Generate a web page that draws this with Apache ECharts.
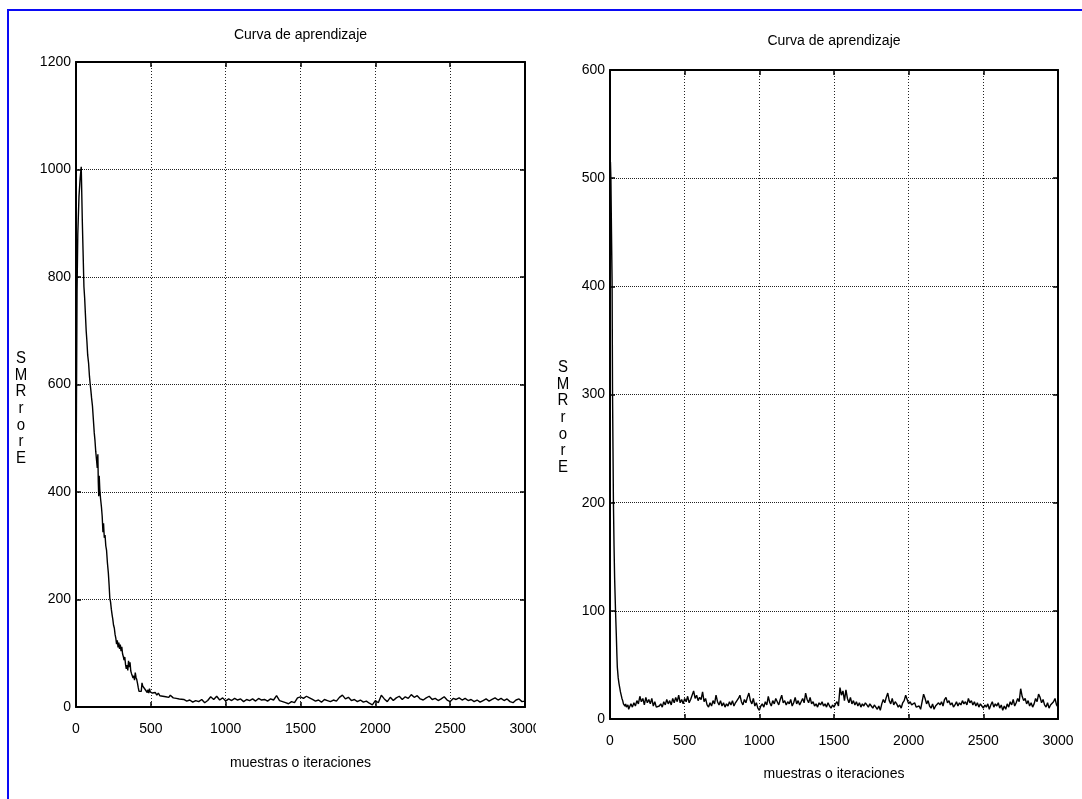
<!DOCTYPE html>
<html>
<head>
<meta charset="utf-8">
<title>Curva de aprendizaje</title>
<script src="https://cdn.jsdelivr.net/npm/echarts@6/dist/echarts.min.js"></script>
<style>
  html, body { margin: 0; padding: 0; background: #fff; }
  #chart { width: 1082px; height: 799px; }
</style>
</head>
<body>
<div id="chart"></div>
<script>
/* Curvas de aprendizaje: error frente a iteraciones (dos experimentos) */

var FONT = "'Liberation Sans Narrow', 'Arial Narrow', 'Liberation Sans', Arial, sans-serif";
var TITULO = "Curva de aprendizaje";
var EJE_X = "muestras o iteraciones";
var EJE_Y = "S\nM\nR\nr\no\nr\nE";

var xTicks = { min: 0, max: 3000, interval: 500 };
var yTicksIzq = { min: 0, max: 1200, interval: 200 };
var yTicksDer = { min: 0, max: 600, interval: 100 };

// grafico izquierdo: [iteracion, error]
var izqSubida = [[0, 366], [3, 560], [7, 775], [12, 880], [20, 950], [28, 985], [35, 1005]];
var izqCaida = [
  [42, 906], [47, 850], [53, 782], [58, 760], [63, 730], [68, 700], [73, 680], [78, 655],
  [84, 640], [90, 615], [95, 600], [99, 590], [104, 575], [110, 560], [116, 535], [122, 510],
  [127, 495], [132, 475], [137, 460], [142, 445], [146, 470], [149, 418], [152, 392], [155, 430],
  [159, 405], [164, 388], [170, 372], [175, 355], [180, 325], [184, 342], [189, 315], [194, 320],
  [199, 300], [204, 292], [210, 268], [216, 250], [221, 228], [226, 202], [231, 195], [236, 182],
  [241, 172], [246, 163], [251, 152], [256, 147], [261, 135], [266, 128], [271, 117], [276, 124],
  [281, 111], [286, 120], [291, 108], [296, 116], [301, 104], [306, 112], [311, 99], [316, 94],
  [321, 87], [326, 93], [331, 79], [336, 71], [341, 78], [346, 68], [351, 86], [356, 74],
  [361, 83], [366, 67], [371, 62], [376, 58], [381, 54], [386, 58], [391, 50], [396, 64],
  [401, 55], [406, 51], [411, 44], [416, 36], [421, 29], [426, 27], [431, 32], [436, 29],
  [441, 45], [446, 39], [451, 37], [456, 42], [461, 33], [466, 30], [471, 36], [476, 27],
  [481, 32], [486, 26], [491, 34], [496, 28], [501, 30], [510, 26], [520, 24], [530, 27],
  [540, 22], [550, 26], [560, 21], [570, 24], [580, 20], [590, 23], [600, 19], [610, 21],
  [620, 18], [630, 22], [640, 19], [650, 17], [660, 20], [670, 16], [680, 18], [690, 15], [700, 17]
];
var izqCola = [
  [720, 14], [740, 11], [760, 13], [780, 9], [800, 12], [820, 10], [840, 14], [860, 8],
  [880, 12], [900, 19], [920, 14], [940, 20], [960, 13], [980, 17], [1000, 11], [1020, 15],
  [1040, 12], [1060, 16], [1080, 13], [1100, 15], [1120, 10], [1140, 14], [1160, 12], [1180, 15],
  [1200, 11], [1220, 16], [1240, 13], [1260, 14], [1280, 11], [1300, 15], [1320, 13], [1340, 21],
  [1360, 12], [1380, 10], [1400, 8], [1420, 6], [1440, 10], [1460, 8], [1480, 17], [1500, 19],
  [1520, 16], [1540, 20], [1560, 17], [1580, 14], [1600, 11], [1620, 13], [1640, 9], [1660, 14],
  [1680, 12], [1700, 10], [1720, 13], [1740, 11], [1760, 18], [1780, 22], [1800, 15], [1820, 18],
  [1840, 12], [1860, 14], [1880, 10], [1900, 13], [1920, 9], [1940, 11], [1960, 7], [1980, 4],
  [2000, 12], [2020, 8], [2040, 22], [2060, 15], [2080, 10], [2100, 18], [2120, 12], [2140, 17],
  [2160, 20], [2180, 14], [2200, 19], [2220, 16], [2240, 23], [2260, 18], [2280, 21], [2300, 15],
  [2320, 13], [2340, 17], [2360, 20], [2380, 14], [2400, 16], [2420, 12], [2440, 15], [2460, 19],
  [2480, 13], [2500, 10], [2520, 16], [2540, 14], [2560, 17], [2580, 13], [2600, 16], [2620, 12],
  [2640, 14], [2660, 10], [2680, 13], [2700, 9], [2720, 12], [2740, 15], [2760, 11], [2780, 14],
  [2800, 17], [2820, 13], [2840, 16], [2860, 12], [2880, 15], [2900, 10], [2920, 8], [2940, 13],
  [2960, 15], [2980, 10], [3000, 11]
];

// grafico derecho: [iteracion, error]
var derCaida = [
  [0, 100], [3, 515], [6, 500], [10, 450], [14, 405], [17, 300], [20, 250], [23, 200],
  [27, 160], [31, 130], [37, 100], [42, 79], [46, 60], [49, 48], [55, 38], [60, 33],
  [65, 29], [70, 25], [75, 22], [80, 19], [85, 17], [90, 14], [95, 15], [100, 12],
  [105, 14], [110, 11], [115, 10], [120, 13], [125, 9], [130, 10]
];
var derCola = [
  [140, 14], [150, 11], [160, 15], [170, 12], [180, 17], [190, 14], [200, 21], [210, 16],
  [220, 19], [230, 13], [240, 20], [250, 15], [260, 18], [270, 14], [280, 19], [290, 12],
  [300, 16], [310, 11], [320, 10], [330, 12], [340, 14], [350, 11], [360, 16], [370, 13],
  [380, 18], [390, 14], [400, 17], [410, 13], [420, 19], [430, 15], [440, 20], [450, 16],
  [460, 22], [470, 15], [480, 18], [490, 14], [500, 19], [510, 16], [520, 21], [530, 15],
  [540, 18], [550, 17], [560, 26], [570, 19], [580, 22], [590, 17], [600, 20], [610, 18],
  [620, 25], [630, 16], [640, 19], [650, 13], [660, 11], [670, 15], [680, 12], [690, 17],
  [700, 14], [710, 22], [720, 16], [730, 13], [740, 17], [750, 12], [760, 15], [770, 11],
  [780, 14], [790, 12], [800, 16], [810, 13], [820, 17], [830, 12], [840, 15], [850, 14],
  [860, 19], [870, 22], [880, 16], [890, 13], [900, 18], [910, 15], [920, 20], [930, 24],
  [940, 17], [950, 14], [960, 19], [970, 12], [980, 15], [990, 10], [1000, 8], [1010, 12],
  [1020, 14], [1030, 11], [1040, 16], [1050, 13], [1060, 21], [1070, 15], [1080, 12], [1090, 17],
  [1100, 14], [1110, 19], [1120, 16], [1130, 13], [1140, 18], [1150, 22], [1160, 15], [1170, 17],
  [1180, 13], [1190, 16], [1200, 14], [1210, 18], [1220, 12], [1230, 15], [1240, 20], [1250, 14],
  [1260, 17], [1270, 13], [1280, 16], [1290, 19], [1300, 15], [1310, 24], [1320, 18], [1330, 15],
  [1340, 20], [1350, 14], [1360, 16], [1370, 12], [1380, 14], [1390, 11], [1400, 15], [1410, 13],
  [1420, 16], [1430, 12], [1440, 14], [1450, 11], [1460, 15], [1470, 12], [1480, 10], [1490, 13],
  [1500, 11], [1510, 14], [1520, 16], [1530, 12], [1540, 29], [1550, 22], [1560, 26], [1570, 17],
  [1580, 27], [1590, 19], [1600, 15], [1610, 20], [1620, 14], [1630, 17], [1640, 13], [1650, 16],
  [1660, 12], [1670, 15], [1680, 11], [1690, 14], [1700, 12], [1710, 15], [1720, 13], [1730, 11],
  [1740, 14], [1750, 12], [1760, 10], [1770, 13], [1780, 11], [1790, 9], [1800, 12], [1810, 8],
  [1820, 14], [1830, 18], [1840, 15], [1850, 20], [1860, 24], [1870, 17], [1880, 14], [1890, 19],
  [1900, 13], [1910, 16], [1920, 14], [1930, 11], [1940, 13], [1950, 10], [1960, 15], [1970, 17],
  [1980, 22], [1990, 18], [2000, 14], [2010, 16], [2020, 13], [2030, 12], [2040, 15], [2050, 11],
  [2060, 10], [2070, 12], [2080, 9], [2090, 16], [2100, 23], [2110, 19], [2120, 14], [2130, 17],
  [2140, 12], [2150, 10], [2160, 14], [2170, 9], [2180, 12], [2190, 11], [2200, 15], [2210, 13],
  [2220, 16], [2230, 12], [2240, 18], [2250, 20], [2260, 15], [2270, 17], [2280, 13], [2290, 15],
  [2300, 11], [2310, 13], [2320, 16], [2330, 12], [2340, 15], [2350, 13], [2360, 17], [2370, 14],
  [2380, 16], [2390, 13], [2400, 19], [2410, 15], [2420, 17], [2430, 13], [2440, 16], [2450, 12],
  [2460, 15], [2470, 11], [2480, 14], [2490, 12], [2500, 10], [2510, 13], [2520, 11], [2530, 14],
  [2540, 9], [2550, 13], [2560, 16], [2570, 11], [2580, 14], [2590, 12], [2600, 15], [2610, 10],
  [2620, 13], [2630, 8], [2640, 12], [2650, 9], [2660, 14], [2670, 11], [2680, 16], [2690, 13],
  [2700, 18], [2710, 12], [2720, 15], [2730, 19], [2740, 16], [2750, 28], [2760, 21], [2770, 17],
  [2780, 19], [2790, 14], [2800, 17], [2810, 12], [2820, 15], [2830, 11], [2840, 14], [2850, 19],
  [2860, 16], [2870, 23], [2880, 20], [2890, 15], [2900, 18], [2910, 13], [2920, 11], [2930, 15],
  [2940, 10], [2950, 13], [2960, 12], [2970, 16], [2980, 19], [2990, 13], [3000, 11]
];

var TXT = { color: "#000", fontFamily: FONT, fontSize: 14, fontWeight: "normal" };
var NEGRO = { color: "#000", width: 2 };
var TICK = { show: true, inside: true, length: 5, lineStyle: { color: "#000", width: 1.5 } };

function num(v) { return String(v); }   // sin separador de miles

function ejeAbajo(g, gap, margin) {
  return {
    gridIndex: g, type: "value", position: "bottom",
    min: xTicks.min, max: xTicks.max, interval: xTicks.interval,
    axisLine: { show: true, onZero: false, lineStyle: NEGRO },
    axisTick: TICK,
    axisLabel: { color: "#000", fontFamily: FONT, fontSize: 14, margin: margin, formatter: num },
    splitLine: { show: true, lineStyle: { color: "#222", width: 1, type: [1, 2] } },
    name: EJE_X, nameLocation: "middle", nameGap: gap, nameTextStyle: TXT
  };
}

function ejeArriba(g, gap) {
  return {
    gridIndex: g, type: "value", position: "top",
    min: xTicks.min, max: xTicks.max, interval: xTicks.interval,
    axisLine: { show: true, onZero: false, lineStyle: NEGRO },
    axisTick: TICK, axisLabel: { show: false }, splitLine: { show: false },
    name: TITULO, nameLocation: "middle", nameGap: gap, nameTextStyle: TXT
  };
}

function ejeY(g, t, pos) {
  var izq = pos === "left";
  return {
    gridIndex: g, type: "value", position: pos,
    min: t.min, max: t.max, interval: t.interval,
    axisLine: { show: true, onZero: false, lineStyle: NEGRO },
    axisTick: TICK,
    axisLabel: { show: izq, color: "#000", fontFamily: FONT, fontSize: 14, margin: 5, formatter: num },
    splitLine: { show: izq, lineStyle: { color: "#222", width: 1, type: [1, 1] } }
  };
}

function curva(xi, yi, datos) {
  return {
    type: "line", xAxisIndex: xi, yAxisIndex: yi, data: datos,
    showSymbol: false, symbol: "none", clip: true,
    lineStyle: { color: "#000", width: 1.4 }
  };
}

function etiquetaY(x, y) {
  return {
    type: "text", z: 100, x: x, y: y, silent: true, scaleY: 1.15,
    style: { text: EJE_Y, fill: "#000", font: "15px " + FONT, lineHeight: 14.5,
             align: "center", verticalAlign: "top" }
  };
}

var chart = echarts.init(document.getElementById("chart"), null, { renderer: "canvas" });

chart.setOption({
  backgroundColor: "#fff",
  animation: false,
  grid: [
    { left: 76, top: 62, width: 449, height: 645 },
    { left: 610, top: 70, width: 448, height: 649 }
  ],
  xAxis: [ejeAbajo(0, 49, 15), ejeArriba(0, 20), ejeAbajo(1, 48, 15), ejeArriba(1, 22)],
  yAxis: [ejeY(0, yTicksIzq, "left"), ejeY(0, yTicksIzq, "right"),
          ejeY(1, yTicksDer, "left"), ejeY(1, yTicksDer, "right")],
  series: [
    curva(0, 0, izqSubida.concat(izqCaida, izqCola)),
    curva(2, 2, derCaida.concat(derCola))
  ],
  graphic: [
    // marco azul del documento
    { type: "polyline", z: 100, silent: true,
      shape: { points: [[8, 799], [8, 10], [1082, 10]] },
      style: { stroke: "#0a0af5", lineWidth: 2, fill: null } },
    // la etiqueta 3000 del grafico izquierdo aparece recortada
    { type: "rect", z: 100, silent: true,
      shape: { x: 536, y: 712, width: 14, height: 36 }, style: { fill: "#fff" } },
    etiquetaY(21, 350),
    etiquetaY(563, 359)
  ]
});
</script>
</body>
</html>
